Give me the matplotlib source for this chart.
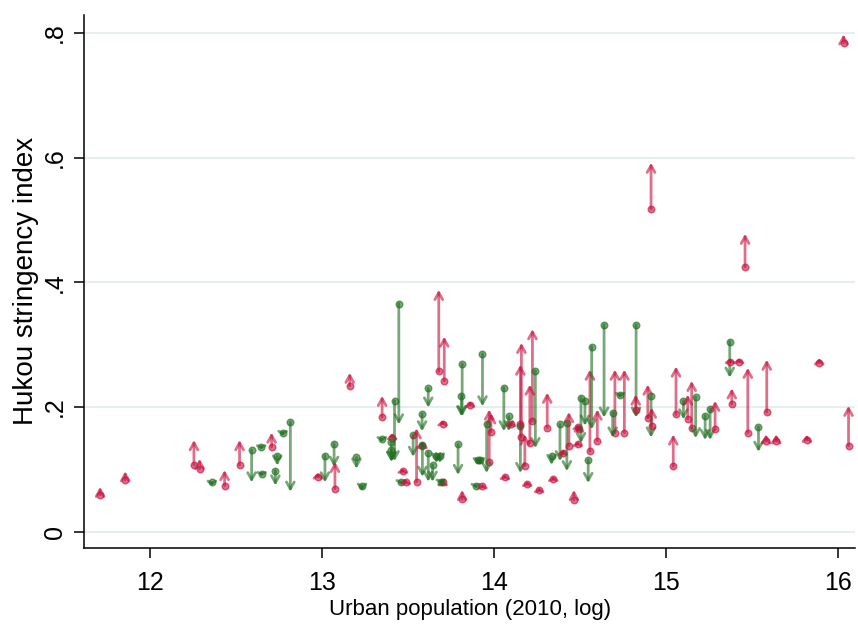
import matplotlib
matplotlib.use("Agg")
import matplotlib.pyplot as plt

plt.rcParams['font.family'] = ['Liberation Sans', 'DejaVu Sans']

# log urban population, index before and after
upop = [11.713, 11.859, 12.258, 12.291, 12.362, 12.436, 12.523, 12.593, 12.649, 12.651,
        12.709, 12.742, 12.731, 12.773, 12.818, 12.978, 13.019, 13.072, 13.077, 13.163,
        13.202, 13.234, 13.351, 13.349, 13.409, 13.405, 13.405, 13.423, 13.448, 13.471,
        13.459, 13.488, 13.531, 13.551, 13.583, 13.585, 13.585, 13.619, 13.644, 13.666,
        13.686, 13.680, 13.712, 13.702, 13.702, 13.692, 13.619, 13.792, 13.816, 13.816,
        13.811, 13.862, 13.895, 13.907, 13.919, 13.934, 13.934, 13.973, 13.983, 13.958,
        14.058, 14.087, 14.099, 14.064, 14.154, 14.154, 14.160, 14.224, 14.241, 14.209,
        14.180, 14.194, 14.310, 14.263, 14.345, 14.335, 14.384, 14.399, 14.424, 14.436,
        14.465, 14.487, 14.487, 14.494, 14.506, 14.529, 14.548, 14.558, 14.568, 14.640,
        14.601, 14.703, 14.758, 14.690, 14.733, 14.826, 14.824, 14.894, 14.913, 14.917,
        14.913, 15.058, 15.042, 15.101, 15.126, 15.149, 15.172, 15.227, 15.256, 15.285,
        15.370, 15.372, 15.424, 15.382, 15.459, 15.475, 15.537, 15.585, 15.581, 15.640,
        15.818, 15.890, 16.031, 16.060]
hukou_start = [0.059, 0.083, 0.107, 0.101, 0.079, 0.074, 0.107, 0.131, 0.136, 0.093,
               0.136, 0.122, 0.098, 0.159, 0.176, 0.088, 0.122, 0.141, 0.069, 0.234,
               0.119, 0.074, 0.184, 0.149, 0.151, 0.144, 0.131, 0.210, 0.366, 0.097,
               0.079, 0.080, 0.155, 0.080, 0.189, 0.137, 0.139, 0.127, 0.107, 0.122,
               0.122, 0.257, 0.242, 0.173, 0.079, 0.079, 0.230, 0.140, 0.052, 0.269,
               0.218, 0.203, 0.073, 0.115, 0.115, 0.073, 0.285, 0.111, 0.160, 0.172,
               0.231, 0.185, 0.173, 0.088, 0.172, 0.170, 0.152, 0.177, 0.258, 0.143,
               0.106, 0.077, 0.167, 0.067, 0.085, 0.122, 0.172, 0.127, 0.175, 0.138,
               0.051, 0.141, 0.168, 0.164, 0.215, 0.210, 0.115, 0.129, 0.297, 0.332,
               0.146, 0.159, 0.159, 0.191, 0.220, 0.332, 0.196, 0.183, 0.217, 0.169,
               0.518, 0.188, 0.105, 0.210, 0.181, 0.167, 0.216, 0.186, 0.197, 0.164,
               0.305, 0.273, 0.273, 0.205, 0.425, 0.159, 0.168, 0.192, 0.145, 0.145,
               0.147, 0.271, 0.784, 0.138]
hukou_end = [0.072, 0.097, 0.147, 0.117, 0.075, 0.099, 0.147, 0.079, 0.133, 0.090,
             0.159, 0.106, 0.074, 0.155, 0.064, 0.094, 0.079, 0.104, 0.112, 0.255,
             0.101, 0.066, 0.218, 0.145, 0.158, 0.112, 0.112, 0.113, 0.172, 0.100,
             0.077, 0.082, 0.120, 0.166, 0.161, 0.145, 0.088, 0.080, 0.080, 0.110,
             0.110, 0.388, 0.313, 0.178, 0.080, 0.078, 0.199, 0.091, 0.067, 0.185,
             0.185, 0.208, 0.071, 0.107, 0.107, 0.075, 0.201, 0.196, 0.190, 0.094,
             0.161, 0.161, 0.175, 0.090, 0.268, 0.094, 0.303, 0.325, 0.134, 0.236,
             0.156, 0.079, 0.223, 0.069, 0.087, 0.107, 0.113, 0.129, 0.097, 0.192,
             0.067, 0.143, 0.170, 0.166, 0.142, 0.170, 0.078, 0.260, 0.164, 0.183,
             0.196, 0.260, 0.260, 0.151, 0.216, 0.183, 0.220, 0.236, 0.151, 0.199,
             0.592, 0.265, 0.156, 0.180, 0.220, 0.242, 0.150, 0.147, 0.147, 0.210,
             0.247, 0.276, 0.277, 0.230, 0.478, 0.263, 0.128, 0.276, 0.156, 0.156,
             0.155, 0.278, 0.798, 0.202]

up_col = '#c8103e'
down_col = '#1e6e1e'

fig = plt.figure(figsize=(8.58, 6.24), dpi=100)
ax = fig.add_axes([0.098, 0.122, 0.899, 0.854])
ymin, ymax = -0.026, 0.829
ax.set_xlim(11.62, 16.10)
ax.set_ylim(ymin, ymax)

# points per unit of the index, used to shrink heads on short arrows
pt_per_unit = 0.854 * 6.24 * 72 / (ymax - ymin)

for x, y0, y1 in zip(upop, hukou_start, hukou_end):
    col = up_col if y1 >= y0 else down_col
    length = abs(y1 - y0) * pt_per_unit
    hl = min(0.5, max(0.12, 0.09 * length))
    ax.annotate('', xy=(x, y1), xytext=(x, y0),
                arrowprops=dict(arrowstyle=f'->,head_length={hl:.2f},head_width=0.28',
                                color=col, lw=2.0, alpha=0.6, mutation_scale=10,
                                shrinkA=0, shrinkB=0))
    ax.plot(x, y0, 'o', ms=4.8, color=col, alpha=0.6, mec=col, zorder=3)

ax.set_xticks([12, 13, 14, 15, 16])
ax.set_yticks([0, 0.2, 0.4, 0.6, 0.8])
ax.set_yticklabels(['0', '.2', '.4', '.6', '.8'], rotation=90, va='center')
ax.grid(axis='y', color='#e6eef0', lw=1.5)
ax.set_axisbelow(True)
for s in ['top', 'right']:
    ax.spines[s].set_visible(False)
for s in ['left', 'bottom']:
    ax.spines[s].set_linewidth(1.1)
ax.tick_params(labelsize=18, length=7.5, width=1.1)
ax.tick_params(axis='x', pad=9)
ax.tick_params(axis='y', pad=5)
ax.set_xlabel('Urban population (2010, log)', fontsize=16, labelpad=3)
ax.set_ylabel('Hukou stringency index', fontsize=20, labelpad=3)

fig.savefig('out.png', dpi=100)
